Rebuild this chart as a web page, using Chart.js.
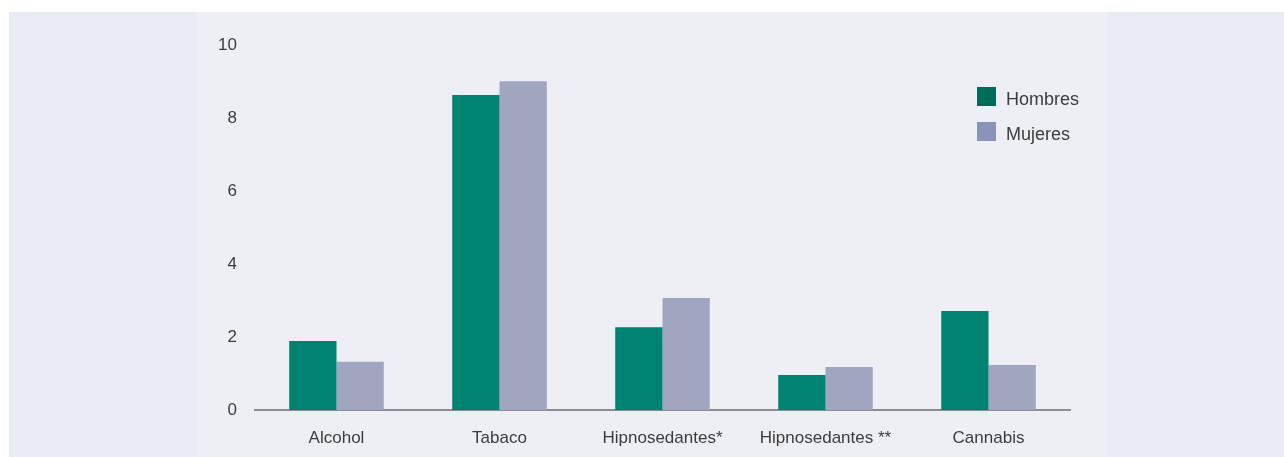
<!DOCTYPE html>
<html>
<head>
<meta charset="utf-8">
<script src="https://cdn.jsdelivr.net/npm/chart.js@4.4.1/dist/chart.umd.min.js"></script>
<style>
  html, body { margin: 0; padding: 0; background: #fff; }
  #wrap { width: 1284px; height: 457px; position: relative; }
</style>
</head>
<body>
<div id="wrap"><canvas id="chart" width="1284" height="457"></canvas></div>
<script>
// datos
const categorias = ['Alcohol', 'Tabaco', 'Hipnosedantes*', 'Hipnosedantes **', 'Cannabis'];
const hombres = [1.89, 8.63, 2.27, 0.96, 2.71];
const mujeres = [1.32, 9.01, 3.07, 1.18, 1.23];
const etiquetasSeries = ['Hombres', 'Mujeres'];
const coloresBarras = ['#008270', '#a0a5c0'];
const coloresLeyenda = ['#006b58', '#8a94b8'];
const textColor = '#3c3c3c';
const fuente = "'Liberation Sans', Arial, Helvetica, sans-serif";

// fondo y leyenda dibujados a mano
const fondo = {
    id: 'fondo',
    beforeDraw(chart) {
        const ctx = chart.ctx;
        ctx.save();
        ctx.fillStyle = '#ffffff';
        ctx.fillRect(0, 0, chart.width, chart.height);
        ctx.fillStyle = '#e8ebf3';
        ctx.fillRect(9, 12, chart.width - 9, chart.height - 12);
        ctx.fillStyle = '#eeeff4';
        ctx.fillRect(197, 12, 910, chart.height - 12);
        ctx.restore();
    },
    afterDraw(chart) {
        const ctx = chart.ctx;
        ctx.save();
        ctx.font = '18px ' + fuente;
        ctx.textBaseline = 'middle';
        chart.data.datasets.forEach((ds, i) => {
            const y = 97 + i * 35;
            ctx.fillStyle = coloresLeyenda[i];
            ctx.fillRect(977, y - 10, 19, 19);
            ctx.fillStyle = textColor;
            ctx.fillText(ds.label, 1006, y + 3);
        });
        ctx.restore();
    }
};

let ctx = document.getElementById('chart').getContext('2d');
new Chart(ctx, {
    type: 'bar',
    data: {
        labels: categorias,
        datasets: [
            { label: etiquetasSeries[0], data: hombres, backgroundColor: coloresBarras[0] },
            { label: etiquetasSeries[1], data: mujeres, backgroundColor: coloresBarras[1] }
        ]
    },
    plugins: [fondo],
    options: {
        responsive: false,
        animation: false,
        layout: { padding: { top: 45, right: 214, bottom: 0, left: 0 } },
        datasets: {
            bar: { categoryPercentage: 0.58, barPercentage: 1 }
        },
        plugins: {
            legend: { display: false },
            tooltip: { enabled: false }
        },
        scales: {
            x: {
                grid: { display: false, drawTicks: false },
                border: { display: true, color: '#8c8c8c', width: 2 },
                ticks: { color: textColor, font: { family: fuente, size: 17 }, padding: 18, maxRotation: 0 },
                afterFit(scale) { scale.height = 47; }
            },
            y: {
                min: 0,
                max: 10,
                grid: { display: false, drawTicks: false },
                border: { display: false },
                ticks: { stepSize: 2, color: textColor, font: { family: fuente, size: 17 }, padding: 18 },
                afterFit(scale) { scale.width = 255; }
            }
        }
    }
});
</script>
</body>
</html>
